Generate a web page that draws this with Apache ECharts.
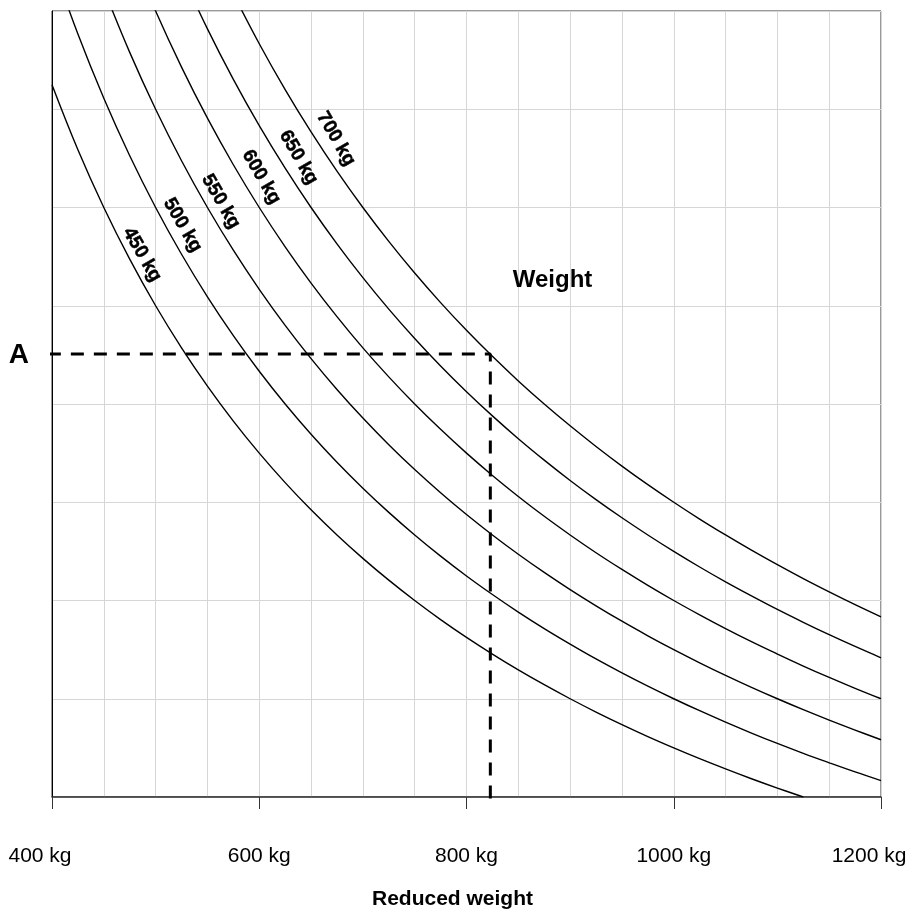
<!DOCTYPE html>
<html>
<head>
<meta charset="utf-8">
<script src="https://cdn.jsdelivr.net/npm/echarts@6/dist/echarts.min.js"></script>
<style>
html,body{margin:0;padding:0;background:#fff;}
#c{width:910px;height:911px;}
</style>
</head>
<body>
<div id="c"></div>
<script>
// x positions (kg) at which curve values were read
var xs = [400,425,450,475,500,525,550,575,600,625,650,675,700,725,750,775,800,825,850,875,900,925,950,975,1000,1025,1050,1075,1100,1125,1150,1175,1200];
// curve values (y in grid units, 0..8; values above 8 run off the top)
var w450 = [7.250,6.588,6.000,5.474,5.000,4.571,4.182,3.826,3.500,3.200,2.923,2.667,2.429,2.207,2.000,1.806,1.625,1.455,1.294,1.143,1.000,0.865,0.737,0.615,0.500,0.390,0.286,0.186,0.091,0.000,null,null,null];
var w500 = [8.500,7.765,7.111,6.526,6.000,5.524,5.091,4.696,4.333,4.000,3.692,3.407,3.143,2.897,2.667,2.452,2.250,2.061,1.882,1.714,1.556,1.405,1.263,1.128,1.000,0.878,0.762,0.651,0.545,0.444,0.348,0.255,0.167];
var w550 = [null,null,8.222,7.579,7.000,6.476,6.000,5.565,5.167,4.800,4.462,4.148,3.857,3.586,3.333,3.097,2.875,2.667,2.471,2.286,2.111,1.946,1.789,1.641,1.500,1.366,1.238,1.116,1.000,0.889,0.783,0.681,0.583];
var w600 = [null,null,null,8.632,8.000,7.429,6.909,6.435,6.000,5.600,5.231,4.889,4.571,4.276,4.000,3.742,3.500,3.273,3.059,2.857,2.667,2.486,2.316,2.154,2.000,1.854,1.714,1.581,1.455,1.333,1.217,1.106,1.000];
var w650 = [null,null,null,null,null,8.381,7.818,7.304,6.833,6.400,6.000,5.630,5.286,4.966,4.667,4.387,4.125,3.879,3.647,3.429,3.222,3.027,2.842,2.667,2.500,2.341,2.190,2.047,1.909,1.778,1.652,1.532,1.417];
var w700 = [null,null,null,null,null,null,null,8.174,7.667,7.200,6.769,6.370,6.000,5.655,5.333,5.032,4.750,4.485,4.235,4.000,3.778,3.568,3.368,3.179,3.000,2.829,2.667,2.512,2.364,2.222,2.087,1.957,1.833];
var curves = [w450, w500, w550, w600, w650, w700];

// curve labels
var labelText = ['450 kg','500 kg','550 kg','600 kg','650 kg','700 kg'];
var labelX = [487,526,563,602,638,674];
var labelY = [5.52,5.82,6.06,6.31,6.51,6.70];

// dashed reading line
var dashX = [396,823,823];
var dashY = [4.51,4.51,-0.08];

// annotations
var noteText = ['Weight','A'];
var noteX = [883,368];
var noteY = [5.26,4.50];
var noteSize = [24,28];

// x tick labels
var tickVals = [400,600,800,1000,1200];
var tickLabels = ['400 kg','600 kg','800 kg','1000 kg','1200 kg'];

var FONT = '"Liberation Sans", Arial, sans-serif';

var series = [];
curves.forEach(function (arr) {
  var d = [];
  xs.forEach(function (x, i) { if (arr[i] !== null) d.push([x, arr[i]]); });
  series.push({
    type: 'line', data: d, smooth: 0.4, symbol: 'none', clip: true,
    lineStyle: { color: '#000', width: 1.4 }, silent: true, z: 3
  });
});
series.push({
  type: 'line', data: dashX.map(function (x, i) { return [x, dashY[i]]; }),
  symbol: 'none', clip: false, silent: true, z: 4,
  lineStyle: { color: '#000', width: 3, type: [13, 10] }
});
series.push({
  type: 'scatter', symbolSize: 0, clip: false, silent: true, z: 5,
  itemStyle: { opacity: 1 },
  data: labelX.map(function (x, i) { return { value: [x, labelY[i]], name: labelText[i] }; }),
  label: {
    show: true, position: 'inside', rotate: -60, formatter: '{b}', opacity: 1,
    color: '#000', fontWeight: 'bold', fontSize: 19, fontFamily: FONT,
    textBorderColor: '#000', textBorderWidth: 0.5
  }
});
series.push({
  type: 'scatter', symbolSize: 0, clip: false, silent: true, z: 5,
  itemStyle: { opacity: 1 },
  data: noteX.map(function (x, i) {
    return { value: [x, noteY[i]], name: noteText[i],
      label: { color: '#000', fontSize: noteSize[i], fontWeight: 'bold', fontFamily: FONT, opacity: 1 } };
  }),
  label: {
    show: true, position: 'inside', formatter: '{b}', opacity: 1,
    color: '#000', fontWeight: 'bold', fontFamily: FONT
  }
});

var chart = echarts.init(document.getElementById('c'), null, { renderer: 'canvas' });
chart.setOption({
  animation: false,
  backgroundColor: '#fff',
  grid: { left: 52, right: 29, top: 11, bottom: 114, show: true, borderColor: '#333', borderWidth: 1,
    containLabel: false, outerBoundsMode: 'none' },
  xAxis: {
    type: 'value', min: 400, max: 1200, interval: 200,
    name: 'Reduced weight', nameLocation: 'middle', nameGap: 92,
    nameTextStyle: { fontFamily: FONT, fontWeight: 'bold', fontSize: 21, color: '#000', padding: [0, 28, 0, 0] },
    axisLine: { show: true, lineStyle: { color: '#333', width: 1.5 } },
    axisTick: { show: true, length: 12, lineStyle: { color: '#333', width: 1 } },
    axisLabel: {
      margin: 49, color: '#000', fontFamily: FONT, fontSize: 21,
      formatter: function (v) {
        var i = tickVals.indexOf(v);
        if (i < 0) return '';
        return (i === 0 || i === tickVals.length - 1) ? '{l|' + tickLabels[i] + '}' : '{c|' + tickLabels[i] + '}';
      },
      rich: {
        l: { fontFamily: FONT, fontSize: 21, color: '#000', padding: [0, 24, 0, 0] },
        c: { fontFamily: FONT, fontSize: 21, color: '#000' }
      }
    },
    splitLine: { show: true, lineStyle: { color: '#d6d6d6', width: 1 } },
    minorTick: { show: false, splitNumber: 4 },
    minorSplitLine: { show: true, lineStyle: { color: '#d6d6d6', width: 1 } }
  },
  yAxis: {
    type: 'value', min: 0, max: 8, interval: 1,
    axisLine: { show: true, lineStyle: { color: '#000', width: 1 } },
    axisTick: { show: false },
    axisLabel: { show: false },
    splitLine: { show: true, lineStyle: { color: '#d6d6d6', width: 1 } }
  },
  series: series
});
</script>
</body>
</html>
